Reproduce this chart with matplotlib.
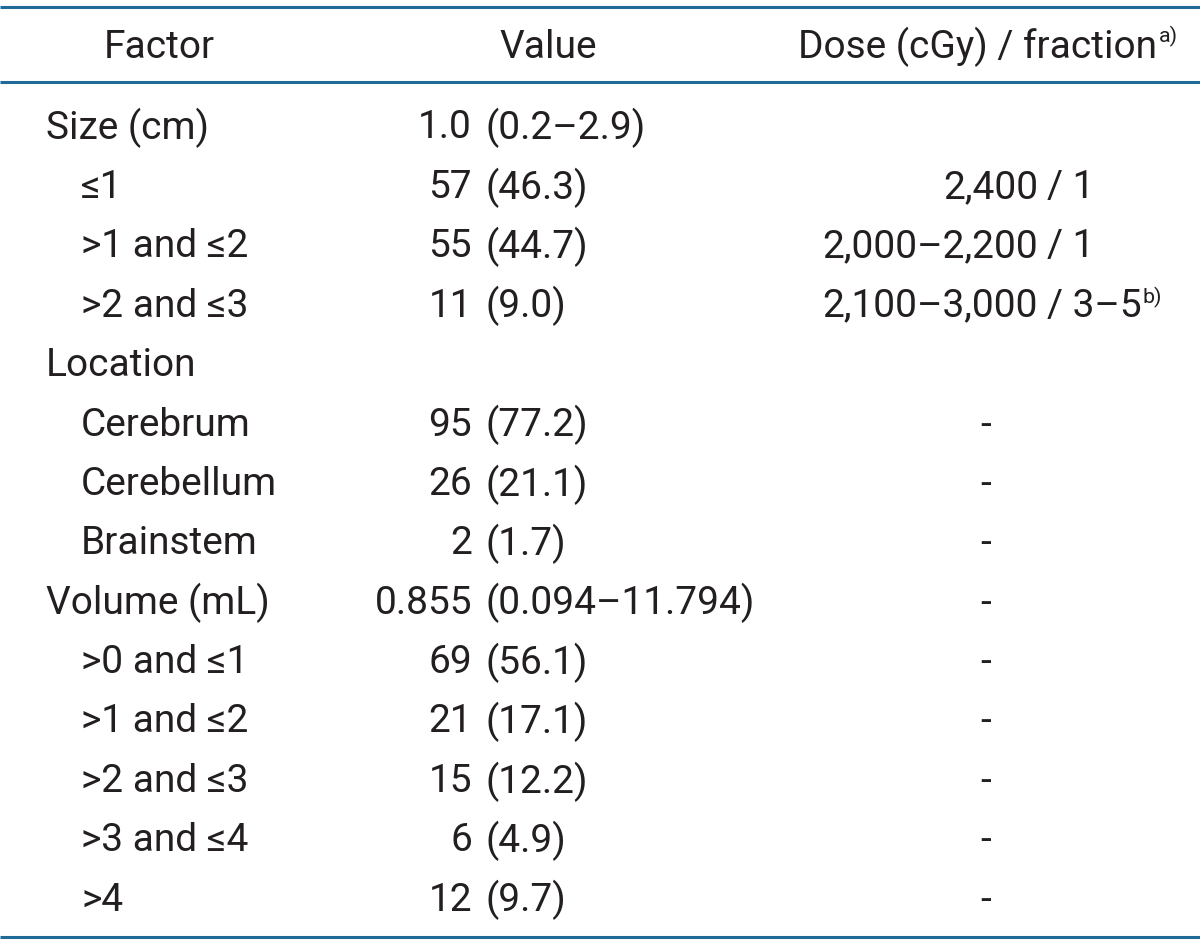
import matplotlib
matplotlib.use('Agg')
import matplotlib.pyplot as plt

# table contents
headers = ['Factor', 'Value', 'Dose (cGy) / fraction']
factors = ['Size (cm)', '≤1', '>1 and ≤2', '>2 and ≤3', 'Location', 'Cerebrum',
           'Cerebellum', 'Brainstem', 'Volume (mL)', '>0 and ≤1', '>1 and ≤2',
           '>2 and ≤3', '>3 and ≤4', '>4']
indent = [0, 1, 1, 1, 0, 1, 1, 1, 0, 1, 1, 1, 1, 1]
value_num = ['1.0', '57', '55', '11', '', '95', '26', '2', '0.855', '69', '21',
             '15', '6', '12']
value_par = ['(0.2–2.9)', '(46.3)', '(44.7)', '(9.0)', '', '(77.2)', '(21.1)',
             '(1.7)', '(0.094–11.794)', '(56.1)', '(17.1)', '(12.2)', '(4.9)',
             '(9.7)']
dose_left = ['', '2,400', '2,000–2,200', '2,100–3,000', '', '-', '-', '-', '-',
             '-', '-', '-', '-', '-']
dose_right = ['', '/ 1', '/ 1', '/ 3–5', '', '', '', '', '', '', '', '', '', '']
dose_sup = ['', '', '', 'b)', '', '', '', '', '', '', '', '', '', '']

txt_color = '#231f20'
line_color = '#1f6a96'
fs = 28
font = ['Roboto', 'DejaVu Sans']

fig = plt.figure(figsize=(12, 9.45), dpi=100)
ax = fig.add_axes([0, 0, 1, 1])
ax.set_xlim(0, 1200)
ax.set_ylim(945, 0)
ax.axis('off')

# rules
for y in [8, 83, 938]:
    ax.plot([0, 1200], [y, y], color=line_color, lw=2.2, solid_capstyle='butt')

kw = dict(fontsize=fs, color=txt_color, family=font, va='center')

ax.text(159, 47, headers[0], ha='center', **kw)
ax.text(548, 47, headers[1], ha='center', **kw)
t = ax.text(978, 47, headers[2], ha='center', **kw)

fig.canvas.draw()
r = fig.canvas.get_renderer()


def add_sup(t, s):
    bb = t.get_window_extent(r)
    x = bb.x1 + 1
    y = fig.bbox.height - bb.y1 - 1
    ax.text(x, y, s, fontsize=fs * 0.55, color=txt_color, family=font,
            ha='left', va='top')


add_sup(t, 'a)')

y0 = 128
dy = 59.4
for i in range(len(factors)):
    y = y0 + i * dy
    ax.text(46 + 35 * indent[i], y, factors[i], ha='left', **kw)
    if value_num[i]:
        ax.text(472, y, value_num[i], ha='right', **kw)
        ax.text(485, y, value_par[i], ha='left', **kw)
    if dose_left[i] == '-':
        ax.text(986, y, '-', ha='center', **kw)
    elif dose_left[i]:
        ax.text(1038, y, dose_left[i], ha='right', **kw)
        t = ax.text(1047, y, dose_right[i], ha='left', **kw)
        if dose_sup[i]:
            add_sup(t, dose_sup[i])

fig.savefig('out.png', dpi=100)
